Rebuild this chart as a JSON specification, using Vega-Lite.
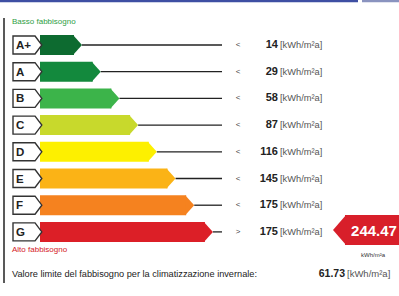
{
  "$schema": "https://vega.github.io/schema/vega-lite/v6.json",
  "width": 399,
  "height": 296,
  "padding": 0,
  "autosize": {"type": "none"},
  "background": "white",
  "config": {"view": {"stroke": null}, "axis": {"disable": true}, "text": {"font": "Liberation Sans"}},
  "datasets": {
    "classes": [
      {"cls": "A+", "rank": 1, "op": "<", "limit": 14},
      {"cls": "A", "rank": 2, "op": "<", "limit": 29},
      {"cls": "B", "rank": 3, "op": "<", "limit": 58},
      {"cls": "C", "rank": 4, "op": "<", "limit": 87},
      {"cls": "D", "rank": 5, "op": "<", "limit": 116},
      {"cls": "E", "rank": 6, "op": "<", "limit": 145},
      {"cls": "F", "rank": 7, "op": "<", "limit": 175},
      {"cls": "G", "rank": 8, "op": ">", "limit": 175}
    ],
    "result": [{"label": "Fabbisogno", "value": 244.47}],
    "limite": [{"label": "Valore limite del fabbisogno per la climatizzazione invernale:", "value": 61.73}]
  },
  "layer": [
    {
      "data": {"name": "classes"},
      "mark": {"type": "rule", "color": "#222222", "strokeWidth": 1.3},
      "encoding": {
        "x": {"field": "rank", "type": "quantitative", "scale": {"domain": [0, 8], "range": [63.3, 212.9], "nice": false, "zero": false}},
        "x2": {"datum": 8.487, "type": "quantitative"},
        "y": {"field": "rank", "type": "quantitative", "scale": {"domain": [0, 8], "range": [18.3, 231.9], "nice": false, "zero": false}}
      }
    },
    {
      "data": {"name": "classes"},
      "mark": {"type": "rule", "color": "#3e4fa3", "strokeWidth": 2.5},
      "transform": [{"filter": "datum.rank == 1"}],
      "encoding": {
        "x": {"datum": -3.385, "type": "quantitative"},
        "x2": {"datum": 15.759, "type": "quantitative"},
        "y": {"datum": -0.648, "type": "quantitative"}
      }
    },
    {
      "data": {"name": "classes"},
      "mark": {"type": "rule", "color": "#8a93bf", "strokeWidth": 2.5},
      "transform": [{"filter": "datum.rank == 1"}],
      "encoding": {
        "x": {"datum": 15.973, "type": "quantitative"},
        "x2": {"datum": 17.952, "type": "quantitative"},
        "y": {"datum": -0.648, "type": "quantitative"}
      }
    },
    {
      "data": {"name": "classes"},
      "mark": {"type": "rule", "color": "#222222", "strokeWidth": 1.5},
      "transform": [{"filter": "datum.rank == 1"}],
      "encoding": {
        "x": {"datum": -3.171, "type": "quantitative"},
        "y": {"datum": -0.011, "type": "quantitative"},
        "y2": {"datum": 9.914, "type": "quantitative"}
      }
    },
    {
      "data": {"name": "classes"},
      "mark": {"type": "rule", "strokeWidth": 20, "strokeCap": "butt", "xOffset": -8},
      "encoding": {
        "x": {"field": "rank", "type": "quantitative"},
        "x2": {"datum": -1.246, "type": "quantitative"},
        "y": {"field": "rank", "type": "quantitative"},
        "color": {"field": "cls", "type": "nominal", "legend": null,
          "scale": {"domain": ["A+", "A", "B", "C", "D", "E", "F", "G"],
                    "range": ["#0d6b30", "#13893d", "#3cb44a", "#c8d92c", "#fdf000", "#fbb316", "#f5821f", "#dc1f27"]}}
      }
    },
    {
      "data": {"name": "classes"},
      "mark": {"type": "point", "shape": "M-0.9,-1L0,0L-0.9,1Z", "size": 400, "filled": true, "opacity": 1, "strokeWidth": 0},
      "encoding": {
        "x": {"field": "rank", "type": "quantitative"},
        "y": {"field": "rank", "type": "quantitative"},
        "color": {"field": "cls", "type": "nominal", "legend": null}
      }
    },
    {
      "data": {"name": "classes"},
      "mark": {"type": "point", "shape": "M0,-1L2.45,-1L3.2,0L2.45,1L0,1Z", "size": 324, "filled": true, "fill": "white", "stroke": "#333333", "strokeWidth": 1.4, "opacity": 1},
      "encoding": {
        "x": {"datum": -2.690, "type": "quantitative"},
        "y": {"field": "rank", "type": "quantitative"}
      }
    },
    {
      "data": {"name": "classes"},
      "mark": {"type": "text", "align": "left", "baseline": "middle", "fontSize": 11.5, "fontWeight": "bold", "color": "#222222", "dy": 1},
      "encoding": {
        "x": {"datum": -2.529, "type": "quantitative"},
        "y": {"field": "rank", "type": "quantitative"},
        "text": {"field": "cls", "type": "nominal"}
      }
    },
    {
      "data": {"name": "classes"},
      "mark": {"type": "text", "align": "center", "baseline": "middle", "fontSize": 8, "color": "#444444"},
      "encoding": {
        "x": {"datum": 9.342, "type": "quantitative"},
        "y": {"field": "rank", "type": "quantitative"},
        "text": {"field": "op", "type": "nominal"}
      }
    },
    {
      "data": {"name": "classes"},
      "mark": {"type": "text", "align": "right", "baseline": "middle", "fontSize": 11, "fontWeight": "bold", "color": "#222222"},
      "encoding": {
        "x": {"datum": 11.481, "type": "quantitative"},
        "y": {"field": "rank", "type": "quantitative"},
        "text": {"field": "limit", "type": "quantitative"}
      }
    },
    {
      "data": {"name": "classes"},
      "mark": {"type": "text", "align": "left", "baseline": "middle", "fontSize": 9.3, "color": "#555555", "text": "[kWh/m²a]"},
      "encoding": {
        "x": {"datum": 11.588, "type": "quantitative"},
        "y": {"field": "rank", "type": "quantitative"}
      }
    },
    {
      "data": {"name": "result"},
      "mark": {"type": "rule", "strokeWidth": 30, "strokeCap": "butt", "color": "#d81f2a"},
      "encoding": {
        "x": {"datum": 15.064, "type": "quantitative"},
        "x2": {"datum": 17.952, "type": "quantitative"},
        "y": {"datum": 7.929, "type": "quantitative"}
      }
    },
    {
      "data": {"name": "result"},
      "mark": {"type": "point", "shape": "M0.07,-1L-0.8,0L0.07,1Z", "size": 900, "filled": true, "opacity": 1, "strokeWidth": 0, "color": "#d81f2a"},
      "encoding": {
        "x": {"datum": 15.064, "type": "quantitative"},
        "y": {"datum": 7.929, "type": "quantitative"}
      }
    },
    {
      "data": {"name": "result"},
      "mark": {"type": "text", "align": "center", "baseline": "middle", "fontSize": 15, "fontWeight": "bold", "color": "white", "dy": 1},
      "encoding": {
        "x": {"datum": 16.615, "type": "quantitative"},
        "y": {"datum": 7.929, "type": "quantitative"},
        "text": {"field": "value", "type": "quantitative", "format": ".2f"}
      }
    },
    {
      "data": {"name": "result"},
      "mark": {"type": "text", "align": "center", "baseline": "middle", "fontSize": 6, "color": "#333333", "text": "kWh/m²a"},
      "encoding": {
        "x": {"datum": 16.561, "type": "quantitative"},
        "y": {"datum": 8.865, "type": "quantitative"}
      }
    },
    {
      "data": {"name": "result"},
      "mark": {"type": "text", "align": "left", "baseline": "middle", "fontSize": 8, "color": "#2e9e44", "text": "Basso fabbisogno"},
      "encoding": {
        "x": {"datum": -2.743, "type": "quantitative"},
        "y": {"datum": 0.12, "type": "quantitative"}
      }
    },
    {
      "data": {"name": "result"},
      "mark": {"type": "text", "align": "left", "baseline": "middle", "fontSize": 8, "color": "#d42027", "text": "Alto fabbisogno"},
      "encoding": {
        "x": {"datum": -2.743, "type": "quantitative"},
        "y": {"datum": 8.678, "type": "quantitative"}
      }
    },
    {
      "data": {"name": "limite"},
      "mark": {"type": "text", "align": "left", "baseline": "middle", "fontSize": 9.2, "color": "#222222"},
      "encoding": {
        "x": {"datum": -2.743, "type": "quantitative"},
        "y": {"datum": 9.577, "type": "quantitative"},
        "text": {"field": "label", "type": "nominal"}
      }
    },
    {
      "data": {"name": "limite"},
      "mark": {"type": "text", "align": "right", "baseline": "middle", "fontSize": 10.5, "fontWeight": "bold", "color": "#222222"},
      "encoding": {
        "x": {"datum": 15.064, "type": "quantitative"},
        "y": {"datum": 9.577, "type": "quantitative"},
        "text": {"field": "value", "type": "quantitative", "format": ".2f"}
      }
    },
    {
      "data": {"name": "limite"},
      "mark": {"type": "text", "align": "left", "baseline": "middle", "fontSize": 9.5, "color": "#555555", "text": "[kWh/m²a]"},
      "encoding": {
        "x": {"datum": 15.171, "type": "quantitative"},
        "y": {"datum": 9.577, "type": "quantitative"}
      }
    }
  ]
}
